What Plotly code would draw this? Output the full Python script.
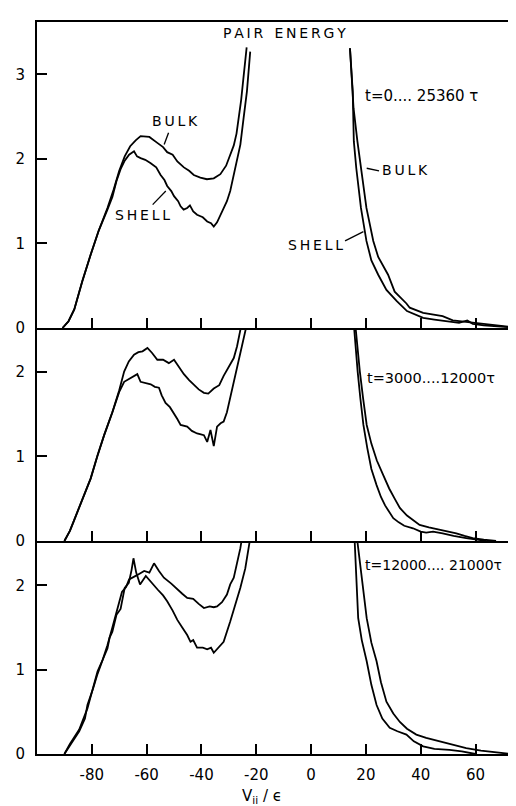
import plotly.graph_objects as go

# ---------------- data ----------------
x_tickvals = [-80, -60, -40, -20, 0, 20, 40, 60]
x_ticktext = ["-80", "-60", "-40", "-20", "0", "20", "40", "60"]
y_tickvals_top = [0, 1, 2, 3]
y_tickvals_low = [0, 1, 2]

# Panel 1: t = 0 ... 25360 tau
p1_bulk_left_v = [-90.7, -88.5, -86.4, -83.5, -80.4, -77.5, -74.3, -72, -70, -68, -66, -64, -62.2, -60.5, -59,
                  -56.1, -54, -52.5, -50.5, -48.8, -46.4, -44.5, -42.8, -40.4, -38, -35.5, -33.1, -31, -29.5,
                  -28.2, -27.2, -26.4, -25.5, -24.7, -24, -23.5]
p1_bulk_left_p = [0, 0.08, 0.22, 0.55, 0.87, 1.15, 1.42, 1.64, 1.86, 2.03, 2.15, 2.22, 2.27, 2.26, 2.26,
                  2.19, 2.14, 2.08, 2.05, 1.97, 1.90, 1.86, 1.81, 1.78, 1.76, 1.77, 1.82, 1.92, 2.05,
                  2.16, 2.30, 2.48, 2.70, 2.95, 3.15, 3.32]
p1_shell_left_v = [-90.7, -88.5, -86.4, -83.5, -80.4, -77.5, -74.3, -72.5, -71, -69.5, -68, -66.4, -64.6, -63.5,
                   -62.2, -60.5, -58.5, -56.5, -54.9, -53.5, -52.5, -51, -50, -48.5, -47.6, -46.5, -45.2, -44.2,
                   -43, -41.6, -39.5, -37.9, -36.5, -35.5, -34.3, -33.1, -31.8, -30.7, -29.5, -28.2, -27, -25.8,
                   -24.6, -23.4, -22.2]
p1_shell_left_p = [0, 0.08, 0.22, 0.55, 0.87, 1.15, 1.40, 1.55, 1.74, 1.88, 1.98, 2.05, 2.09, 2.03,
                   2.01, 1.99, 1.95, 1.90, 1.81, 1.75, 1.68, 1.62, 1.56, 1.50, 1.44, 1.40, 1.42, 1.45,
                   1.38, 1.34, 1.31, 1.26, 1.24, 1.20, 1.25, 1.34, 1.42, 1.50, 1.62, 1.81, 1.98, 2.17,
                   2.49, 2.80, 3.27]
p1_bulk_right_v = [14.2, 14.8, 15.5, 16.9, 18.3, 20.2, 22.7, 24.5, 28.1, 30.5, 34.8, 36.0, 40.9, 44.0, 48.0,
                   51.7, 56.6, 61.5, 66.0, 71.0, 74.0]
p1_bulk_right_p = [3.31, 3.0, 2.6, 2.21, 1.89, 1.42, 1.03, 0.84, 0.63, 0.43, 0.29, 0.24, 0.18, 0.16, 0.14,
                   0.09, 0.07, 0.05, 0.035, 0.02, 0.01]
p1_shell_right_v = [14.2, 14.6, 15.2, 15.6, 16.5, 18.2, 20.2, 22.0, 24.5, 27.5, 31.2, 35.0, 40.9, 45.0, 49.3,
                    54.0, 57.0, 59.0, 63.0, 68.0, 72.0]
p1_shell_right_p = [3.31, 3.05, 2.8, 2.21, 1.89, 1.42, 1.03, 0.80, 0.63, 0.45, 0.32, 0.20, 0.12, 0.10, 0.08,
                    0.06, 0.09, 0.05, 0.03, 0.02, 0.01]

# Panel 2: t = 3000 ... 12000 tau
p2_bulk_left_v = [-90, -88, -86.4, -83.5, -80.4, -78, -75.5, -72.5, -70, -68.2, -66.5, -64.6, -63, -61.5, -59.7,
                  -58, -56.1, -54, -51.9, -50, -48, -46.4, -44.5, -42.8, -41, -39.1, -37.5, -35.5, -33.5,
                  -31.9, -30, -28.2, -27, -25.8, -25]
p2_bulk_left_p = [0, 0.12, 0.25, 0.48, 0.74, 1.0, 1.25, 1.52, 1.78, 2.0, 2.12, 2.2, 2.23, 2.24, 2.28,
                  2.22, 2.14, 2.14, 2.10, 2.14, 2.04, 1.97, 1.90, 1.85, 1.79, 1.75, 1.74, 1.80, 1.84,
                  1.95, 2.05, 2.16, 2.30, 2.48, 2.62]
p2_shell_left_v = [-90, -88, -86.4, -83.5, -80.4, -78, -75.5, -72.5, -70, -68.2, -66, -64.5, -63.4, -62.2, -60.5,
                   -58.5, -57, -55.5, -54.5, -53.1, -51.5, -50, -48.8, -47.6, -46.5, -45.2, -43.5, -41.6, -40.2,
                   -39.1, -37.9, -36.7, -35.5, -34.3, -33, -31.9, -30.7, -29.5, -28.2, -27, -25.2, -24, -23]
p2_shell_left_p = [0, 0.12, 0.25, 0.48, 0.74, 1.0, 1.25, 1.52, 1.76, 1.88, 1.92, 1.95, 1.97, 1.88, 1.87,
                   1.85, 1.82, 1.81, 1.72, 1.63, 1.58, 1.51, 1.44, 1.37, 1.36, 1.35, 1.30, 1.27, 1.26,
                   1.25, 1.17, 1.31, 1.12, 1.35, 1.39, 1.41, 1.52, 1.69, 1.86, 2.04, 2.32, 2.48, 2.62]
p2_bulk_right_v = [16.0, 16.8, 17.8, 19.0, 20.3, 22.0, 24.0, 26.3, 28.5, 30.5, 32.4, 35.0, 37.5, 39.6, 43.0,
                   46.0, 49.3, 53.0, 56.0, 59.0, 63.0, 67.5]
p2_bulk_right_p = [2.6, 2.3, 2.0, 1.68, 1.37, 1.15, 0.95, 0.78, 0.62, 0.50, 0.39, 0.30, 0.24, 0.19, 0.16,
                   0.14, 0.11, 0.09, 0.06, 0.035, 0.015, 0.0]
p2_shell_right_v = [15.5, 16.2, 17.0, 18.0, 19.1, 20.5, 22.0, 23.9, 25.5, 27.0, 28.5, 30.0, 32.0, 34.0, 37.2,
                    40.0, 42.0, 44.5, 48.0, 52.0, 56.6, 60.0, 64.0]
p2_shell_right_p = [2.6, 2.3, 2.0, 1.68, 1.37, 1.1, 0.85, 0.66, 0.52, 0.42, 0.34, 0.27, 0.22, 0.18, 0.15,
                    0.11, 0.10, 0.11, 0.09, 0.06, 0.035, 0.02, 0.0]

# Panel 3: t = 12000 ... 21000 tau
p3_bulk_left_v = [-90, -88, -86, -84.6, -81.6, -79.5, -77.9, -76, -74.3, -72.5, -70.7, -69, -67.5, -66.4, -63.5,
                  -60.9, -59, -57.3, -55.5, -53.7, -51, -48.8, -47, -45.2, -43, -41, -39.1, -37, -35.5,
                  -34.3, -32.5, -30.7, -29.5, -28.2, -27, -25.8, -25]
p3_bulk_left_p = [0, 0.12, 0.22, 0.29, 0.54, 0.78, 0.98, 1.12, 1.29, 1.50, 1.73, 1.92, 1.98, 2.07, 2.12,
                  2.17, 2.15, 2.26, 2.17, 2.09, 2.02, 1.95, 1.90, 1.85, 1.84, 1.78, 1.73, 1.75, 1.74,
                  1.75, 1.80, 1.89, 2.01, 2.09, 2.25, 2.44, 2.6]
p3_shell_left_v = [-90, -88, -86, -84.6, -82.5, -81.6, -79.5, -77.9, -76, -74.3, -73.5, -72.5, -71, -69.5, -68,
                   -66.5, -65.5, -64.8, -63.8, -62.4, -60.3, -58, -56, -54, -52.5, -50.5, -48.8, -47, -45.2,
                   -44, -43, -41.6, -39.5, -37.9, -36.5, -35.5, -33.5, -31.9, -29.5, -27.5, -25.8, -24,
                   -22.8, -22]
p3_shell_left_p = [0, 0.1, 0.2, 0.27, 0.42, 0.58, 0.78, 0.95, 1.12, 1.25, 1.38, 1.45, 1.65, 1.72, 1.97,
                   2.03, 2.18, 2.32, 2.15, 2.01, 2.11, 2.02, 1.95, 1.88, 1.81, 1.70, 1.59, 1.50, 1.41,
                   1.33, 1.35, 1.26, 1.26, 1.24, 1.26, 1.20, 1.27, 1.33, 1.57, 1.78, 1.97, 2.2,
                   2.44, 2.6]
p3_bulk_right_v = [16.6, 17.5, 18.3, 19.1, 20.3, 22.0, 23.9, 25.5, 27.5, 30.0, 32.4, 35.0, 38.4, 42.0, 46.9,
                   51.0, 56.6, 62.0, 68.7, 73.0]
p3_bulk_right_p = [2.6, 2.35, 2.15, 1.97, 1.61, 1.32, 1.10, 0.85, 0.62, 0.48, 0.38, 0.30, 0.23, 0.19, 0.15,
                   0.11, 0.07, 0.04, 0.02, 0.0]
p3_shell_right_v = [15.8, 16.2, 16.6, 17.2, 18.5, 20.3, 22.0, 23.9, 26.0, 28.7, 31.5, 34.8, 37.5, 40.9, 45.0,
                    50.5, 55.0, 60.0]
p3_shell_right_p = [2.6, 2.3, 1.97, 1.61, 1.35, 1.10, 0.82, 0.58, 0.42, 0.31, 0.27, 0.23, 0.15, 0.09, 0.06,
                    0.05, 0.03, 0.0]

panel_labels = ["t=0.... 25360 τ", "t=3000....12000τ", "t=12000.... 21000τ"]

# ---------------- figure ----------------
FONT = "DejaVu Sans"
fig = go.Figure()

curves = [
    (1, p1_bulk_left_v, p1_bulk_left_p), (1, p1_shell_left_v, p1_shell_left_p),
    (1, p1_bulk_right_v, p1_bulk_right_p), (1, p1_shell_right_v, p1_shell_right_p),
    (2, p2_bulk_left_v, p2_bulk_left_p), (2, p2_shell_left_v, p2_shell_left_p),
    (2, p2_bulk_right_v, p2_bulk_right_p), (2, p2_shell_right_v, p2_shell_right_p),
    (3, p3_bulk_left_v, p3_bulk_left_p), (3, p3_shell_left_v, p3_shell_left_p),
    (3, p3_bulk_right_v, p3_bulk_right_p), (3, p3_shell_right_v, p3_shell_right_p),
]
for row, xs, ys in curves:
    sfx = "" if row == 1 else str(row)
    fig.add_trace(go.Scatter(x=xs, y=ys, mode="lines", xaxis="x" + sfx, yaxis="y" + sfx,
                             line=dict(color="black", width=1.8, shape="linear"),
                             showlegend=False, hoverinfo="skip"))

XR = [-100, 76.6]
tickfont = dict(family=FONT, size=15, color="black")
common_x = dict(range=XR, showline=True, linecolor="black", linewidth=2, ticks="inside",
                ticklen=10, tickwidth=1.5, tickcolor="black", tickvals=x_tickvals, ticktext=x_ticktext,
                showgrid=False, zeroline=False, fixedrange=True)
common_y = dict(showline=True, linecolor="black", linewidth=2, ticks="inside", ticklen=10,
                tickwidth=1.5, tickcolor="black", showgrid=False, zeroline=False,
                tickfont=tickfont, ticklabelstandoff=7)

dom = [[426 / 732, 1.0], [213 / 732, 426 / 732], [0.0, 213 / 732]]

fig.update_layout(
    width=516, height=806,
    margin=dict(l=29, r=1, t=14, b=60),
    plot_bgcolor="white", paper_bgcolor="white",
    xaxis=dict(**common_x, domain=[0, 1], anchor="y", showticklabels=False, mirror=True),
    xaxis2=dict(**common_x, domain=[0, 1], anchor="y2", showticklabels=False, matches="x"),
    xaxis3=dict(**common_x, domain=[0, 1], anchor="y3", showticklabels=True, matches="x",
                tickfont=tickfont, ticklabelstandoff=6),
    yaxis=dict(**common_y, domain=dom[0], range=[0, 3.62], tickvals=y_tickvals_top, anchor="x", mirror=True),
    yaxis2=dict(**common_y, domain=dom[1], range=[0, 2.515], tickvals=y_tickvals_low, anchor="x2"),
    yaxis3=dict(**common_y, domain=dom[2], range=[0, 2.525], tickvals=y_tickvals_low, anchor="x3"),
)

TS = "\u2009"
title_text = TS.join("PAIR") + TS * 4 + TS.join("ENERGY")
tf = dict(family=FONT, size=14, color="black")
ann = [
    dict(x=-9.7, y=3.49, xref="x", yref="y", text=title_text, showarrow=False,
         font=dict(family=FONT, size=14, color="black")),
    dict(x=-49.5, y=2.45, xref="x", yref="y", text=TS.join("BULK"), showarrow=False, font=tf),
    dict(x=-61.5, y=1.34, xref="x", yref="y", text=TS.join("SHELL"), showarrow=False, font=tf),
    dict(x=34.1, y=1.87, xref="x", yref="y", text=TS.join("BULK"), showarrow=False, font=tf),
    dict(x=1.7, y=0.98, xref="x", yref="y", text=TS.join("SHELL"), showarrow=False, font=tf),
    dict(x=18.8, y=2.74, xref="x", yref="y", text=panel_labels[0], showarrow=False, xanchor="left",
         font=dict(family=FONT, size=15, color="black")),
    dict(x=19.5, y=1.92, xref="x2", yref="y2", text=panel_labels[1], showarrow=False, xanchor="left",
         font=dict(family=FONT, size=14.5, color="black")),
    dict(x=19.0, y=2.24, xref="x3", yref="y3", text=panel_labels[2], showarrow=False, xanchor="left",
         font=dict(family=FONT, size=14, color="black")),
    dict(x=-17.9, y=-54 / 732, xref="x3", yref="paper", text="V<sub>ii</sub> / ϵ", showarrow=False,
         font=dict(family=FONT, size=15, color="black")),
]
fig.update_layout(annotations=ann)

lead = dict(color="black", width=1.3)
fig.update_layout(shapes=[
    dict(type="line", xref="x", yref="y", x0=-52.0, y0=2.31, x1=-53.6, y1=2.17, line=lead),
    dict(type="line", xref="x", yref="y", x0=-57.8, y0=1.46, x1=-53.0, y1=1.62, line=lead),
    dict(type="line", xref="x", yref="y", x0=20.3, y0=1.89, x1=24.8, y1=1.86, line=lead),
    dict(type="line", xref="x", yref="y", x0=12.4, y0=1.03, x1=19.1, y1=1.14, line=lead),
])

fig.write_html("out.html")
